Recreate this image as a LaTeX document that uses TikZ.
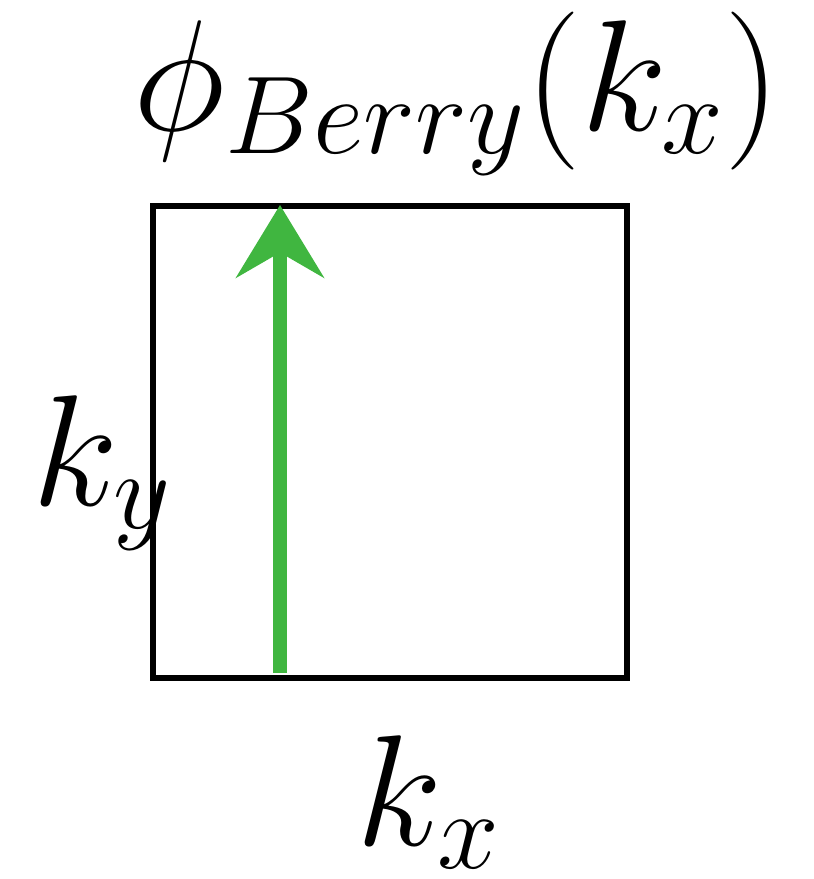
\documentclass[tikz,border=0pt]{standalone}
\usepackage{fix-cm}
\usetikzlibrary{arrows.meta}
\definecolor{arrowgreen}{RGB}{64,182,64}
\begin{document}
\begin{tikzpicture}[x=0.02cm,y=-0.02cm,
  lbl/.style={inner sep=0pt,anchor=base,font=\fontsize{90}{96}\selectfont},
  box/.style={draw=black,line width=3.4pt},
  garrow/.style={draw=arrowgreen,line width=7.5pt,-{Stealth[length=1.45cm,width=1.75cm,inset=0.5cm]}}]
\useasboundingbox (0,0) rectangle (814,879);
\node[box,minimum width=474*0.02cm,minimum height=472*0.02cm,inner sep=0pt,anchor=north west] (sq) at (150,203) {};
\coordinate (bot) at (280,673);
\coordinate (top) at (280,205);
\draw[garrow] (bot) -- (top);
\node[lbl] (title) at (457,130) {$\phi_{Berry}(k_x)$};
\node[lbl] (ky) at (102,505) {$k_y$};
\node[lbl] (kx) at (428,845) {$k_x$};
\end{tikzpicture}
\end{document}
